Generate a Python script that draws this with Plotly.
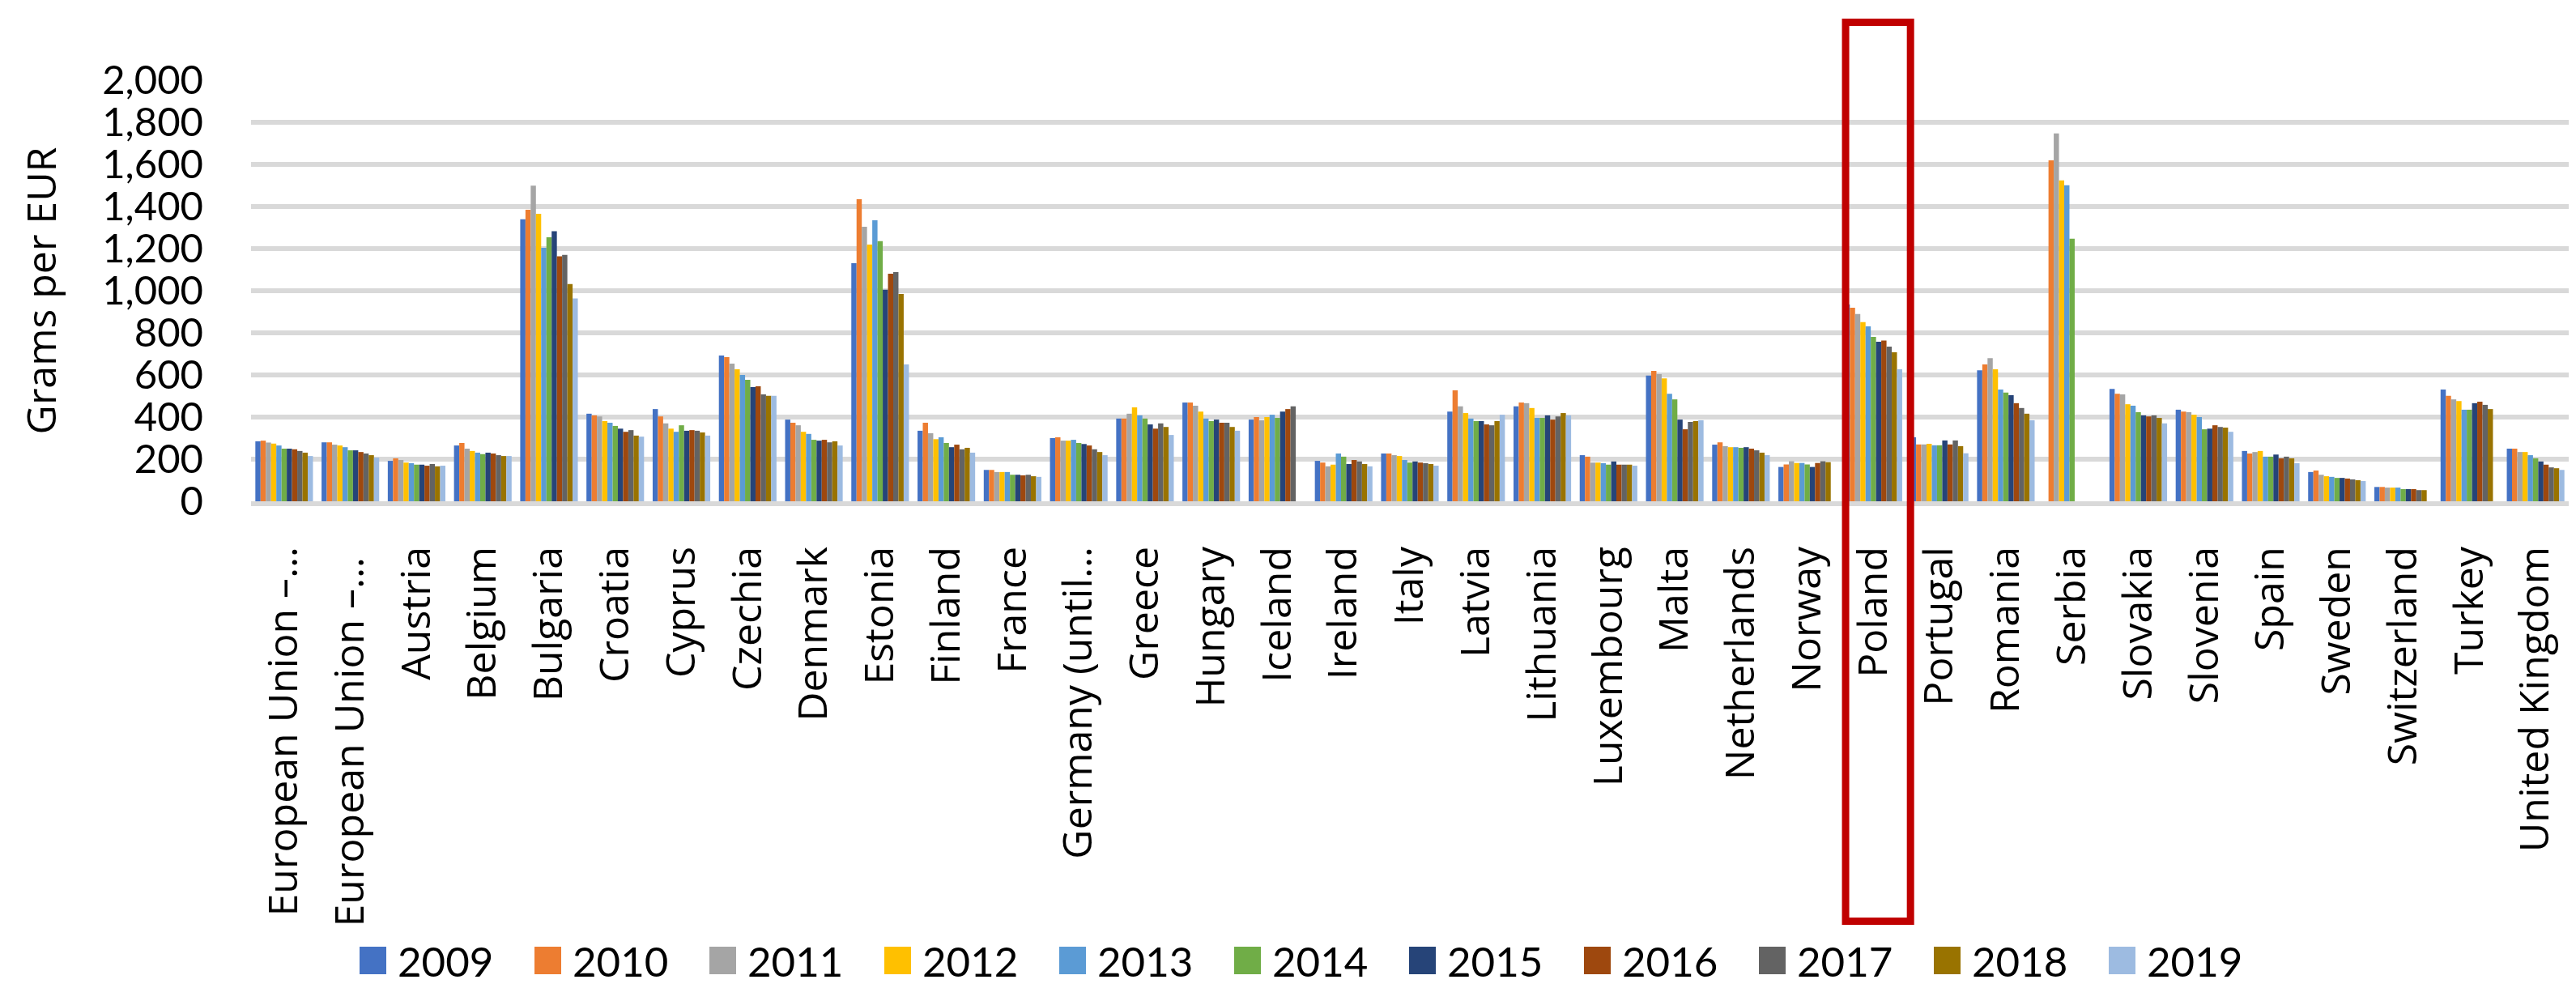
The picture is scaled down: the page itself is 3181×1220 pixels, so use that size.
import plotly.graph_objects as go

categories = ["European Union –…", "European Union –… ", "Austria", "Belgium", "Bulgaria", "Croatia",
              "Cyprus", "Czechia", "Denmark", "Estonia", "Finland", "France", "Germany (until…",
              "Greece", "Hungary", "Iceland", "Ireland", "Italy", "Latvia", "Lithuania",
              "Luxembourg", "Malta", "Netherlands", "Norway", "Poland", "Portugal", "Romania",
              "Serbia", "Slovakia", "Slovenia", "Spain", "Sweden", "Switzerland", "Turkey",
              "United Kingdom"]

years = ["2009", "2010", "2011", "2012", "2013", "2014", "2015", "2016", "2017", "2018", "2019"]
colors = ["#4472C4", "#ED7D31", "#A5A5A5", "#FFC000", "#5B9BD5", "#70AD47",
          "#264478", "#9E480E", "#636363", "#997300", "#9DBBE1"]

N = None
v2009 = [285, 280, 192, 265, 1339, 416, 438, 692, 388, 1131, 335, 149, 300, 393, 469, 388, 192, 227, 426, 451, 219, 597, 269, 163, 935, 304, 622, N, 534, 435, 239, 139, 68, 531, 250]
v2010 = [288, 280, 204, 277, 1385, 408, 403, 685, 373, 1435, 373, 149, 304, 393, 469, 400, 184, 227, 527, 469, 212, 619, 280, 175, 919, 270, 650, 1619, 511, 426, 227, 146, 68, 501, 250]
v2011 = [279, 269, 196, 250, 1499, 403, 370, 654, 361, 1304, 323, 139, 288, 416, 454, 385, 166, 219, 451, 466, 184, 604, 262, 190, 889, 270, 680, 1747, 508, 423, 234, 126, 65, 484, 234]
v2012 = [274, 265, 184, 239, 1365, 381, 345, 627, 330, 1219, 295, 139, 288, 446, 426, 400, 174, 215, 419, 443, 184, 584, 257, 182, 851, 273, 627, 1524, 461, 411, 239, 119, 65, 476, 234]
v2013 = [265, 257, 181, 231, 1204, 373, 330, 600, 320, 1335, 304, 139, 292, 408, 393, 411, 227, 196, 393, 396, 181, 511, 257, 182, 831, 266, 531, 1501, 454, 400, 212, 116, 65, 435, 219]
v2014 = [250, 242, 174, 224, 1254, 358, 361, 577, 292, 1236, 277, 126, 277, 393, 381, 396, 212, 184, 381, 396, 174, 484, 254, 175, 781, 266, 516, 1247, 423, 342, 212, 111, 58, 435, 204]
v2015 = [250, 242, 174, 231, 1283, 345, 335, 542, 288, 1005, 257, 126, 272, 365, 388, 426, 177, 189, 381, 408, 189, 388, 257, 163, 758, 289, 504, N, 408, 345, 222, 111, 58, 466, 189]
v2016 = [247, 234, 169, 227, 1163, 330, 338, 546, 292, 1081, 269, 123, 265, 345, 373, 438, 196, 184, 365, 388, 174, 342, 250, 182, 763, 270, 466, N, 403, 361, 204, 108, 58, 473, 174]
v2017 = [239, 227, 177, 219, 1170, 338, 335, 508, 280, 1088, 247, 126, 247, 370, 373, 451, 189, 181, 361, 403, 174, 377, 242, 190, 735, 289, 443, N, 408, 353, 212, 104, 53, 458, 161]
v2018 = [231, 219, 166, 215, 1032, 312, 327, 501, 285, 985, 254, 119, 234, 353, 353, N, 177, 177, 381, 419, 174, 381, 231, 186, 708, 262, 416, N, 396, 350, 204, 100, 53, 438, 157]
v2019 = [215, 207, 169, 215, 963, 307, 312, 501, 265, 650, 231, 116, 219, 315, 335, N, 166, 169, 411, 408, 169, 385, 219, N, 627, 228, 385, N, 370, 330, 181, 96, N, N, 149]

series = [v2009, v2010, v2011, v2012, v2013, v2014, v2015, v2016, v2017, v2018, v2019]

y_ticks = [0, 200, 400, 600, 800, 1000, 1200, 1400, 1600, 1800, 2000]
highlight = "Poland"

W, H = 3181, 1220
L, R, T, B = 302, 17, 91, 609
PW, PH = W - L - R, H - T - B

fig = go.Figure()
for yr, vals, col in zip(years, series, colors):
    fig.add_trace(go.Bar(name=yr, x=categories, y=vals, marker_color=col,
                         marker_line_width=0, showlegend=False))

# manual legend (large square swatches like the original)
def px_x(p):
    return (p - L) / PW

def px_y(p):
    return (T + PH - p) / PH

for i, (yr, col) in enumerate(zip(years, colors)):
    x0 = 436 + 216 * i
    fig.add_shape(type="rect", xref="paper", yref="paper",
                  x0=px_x(x0), x1=px_x(x0 + 33), y0=px_y(1195), y1=px_y(1161),
                  fillcolor=col, line_width=0)
    fig.add_annotation(x=px_x(x0 + 45), y=px_y(1178), xref="paper", yref="paper",
                       text=yr, showarrow=False, xanchor="left", yanchor="middle",
                       font=dict(family="Lato", size=51, color="#000000"))

# red highlight rectangle around Poland
pi = categories.index(highlight)
fig.add_shape(type="rect", xref="x", yref="paper",
              x0=pi - 0.42, x1=pi + 0.56, y0=px_y(1129.5), y1=px_y(19.5),
              line=dict(color="#C00000", width=9), fillcolor="rgba(0,0,0,0)", layer="above")

fig.update_layout(
    width=W, height=H,
    margin=dict(l=L, r=R, t=T, b=B, pad=0, autoexpand=False),
    paper_bgcolor="white", plot_bgcolor="white",
    barmode="group", bargap=0.13, bargroupgap=0,
    xaxis=dict(type="category", categoryorder="array", categoryarray=categories,
               tickangle=-90, tickfont=dict(family="Open Sans", size=50, color="#000000"),
               showgrid=False, showline=True, linecolor="#D9D9D9", linewidth=6,
               ticks="", ticklabelstandoff=30, layer="above traces", automargin=False,
               range=[-0.5, len(categories) - 0.5]),
    yaxis=dict(range=[0, 2000], tickvals=y_ticks, tickformat=",d",
               tickfont=dict(family="Lato", size=49, color="#000000"),
               showgrid=True, gridcolor="#D9D9D9", gridwidth=6, automargin=False,
               zeroline=False, showline=False, ticks="", ticklabelstandoff=58,
               title=dict(text="Grams per EUR", standoff=40,
                          font=dict(family="Open Sans", size=50, color="#000000"))),
)

fig.write_html("out.html")
